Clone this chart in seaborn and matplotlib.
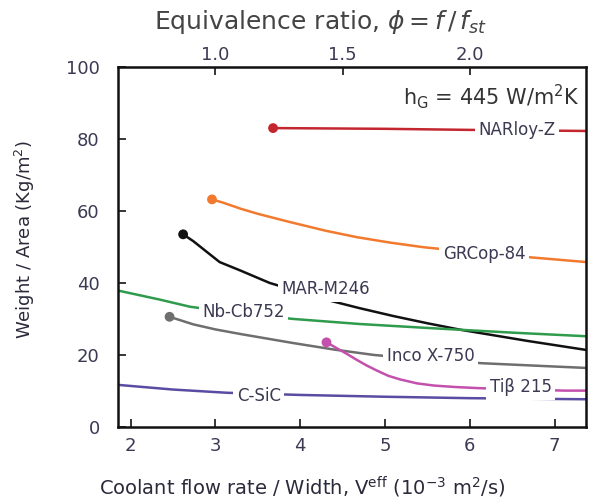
import numpy as np
import pandas as pd
import matplotlib
matplotlib.use("Agg")
import matplotlib.pyplot as plt
import seaborn as sns

# ---- data ----
alloys = ["NARloy-Z", "GRCop-84", "MAR-M246", "Nb-Cb752", "Inco X-750", "Tiβ 215", "C-SiC"]
narloy_v = [3.68, 5.0, 6.0, 7.37]
narloy_w = [83.0, 82.8, 82.5, 82.2]
grcop_v = [2.96, 3.09, 3.3, 3.5, 3.88, 4.3, 4.67, 5.06, 5.46, 6.1, 6.72, 7.37]
grcop_w = [63.2, 62.3, 60.6, 59.2, 56.9, 54.5, 52.7, 51.2, 49.9, 48.4, 47.1, 45.8]
mar_v = [2.62, 2.74, 3.05, 3.3, 3.64, 4.28, 4.7, 5.10, 5.5, 5.89, 6.68, 7.37]
mar_w = [53.5, 51.6, 45.8, 43.4, 40.0, 35.5, 33.0, 30.8, 28.8, 27.0, 23.9, 21.4]
nb_v = [1.85, 2.34, 2.70, 3.3, 3.92, 4.7, 5.50, 6.5, 7.37]
nb_w = [37.9, 35.4, 33.4, 31.5, 30.0, 28.6, 27.5, 26.2, 25.2]
inco_v = [2.46, 2.74, 3.0, 3.3, 3.92, 4.4, 4.87, 5.5, 6.15, 6.8, 7.37]
inco_w = [30.6, 28.5, 27.1, 25.8, 23.3, 21.5, 20.0, 18.7, 17.7, 17.0, 16.4]
ti_v = [4.31, 4.43, 4.55, 4.67, 4.79, 4.91, 5.04, 5.18, 5.38, 5.58, 5.83, 6.09, 6.6, 7.12, 7.37]
ti_w = [23.5, 21.9, 20.3, 18.6, 17.0, 15.6, 14.2, 13.2, 12.1, 11.5, 11.1, 10.8, 10.4, 10.1, 10.1]
csic_v = [1.85, 2.5, 3.14, 4.0, 5.0, 6.0, 7.37]
csic_w = [11.7, 10.4, 9.5, 8.9, 8.4, 8.0, 7.7]
has_dot = [True, True, True, False, True, True, False]
label_v = [6.56, 6.17, 4.30, 3.33, 5.54, 6.60, 3.51]
label_w = [82.5, 47.9, 38.2, 32.0, 19.8, 11.0, 8.6]
x_ticks = [2, 3, 4, 5, 6, 7]
y_ticks = [0, 20, 40, 60, 80, 100]
phi_ticks = [1.0, 1.5, 2.0]

colors = {"NARloy-Z": "#c3262f", "GRCop-84": "#f27a2e", "MAR-M246": "#111111",
          "Nb-Cb752": "#2f9b4c", "Inco X-750": "#6e6e6e", "Tiβ 215": "#c450ad",
          "C-SiC": "#5a4ca3"}

series_v = [narloy_v, grcop_v, mar_v, nb_v, inco_v, ti_v, csic_v]
series_w = [narloy_w, grcop_w, mar_w, nb_w, inco_w, ti_w, csic_w]
rows = []
for a, vs, ws in zip(alloys, series_v, series_w):
    for i, (v, w) in enumerate(zip(vs, ws)):
        rows.append({"alloy": a, "V": v, "W": w, "order": i})
df = pd.DataFrame(rows)
starts = df[df["order"] == 0]
starts = starts[[has_dot[alloys.index(a)] for a in starts["alloy"]]]

sns.set_style("ticks")
plt.rcParams["font.family"] = ["DejaVu Sans"]
plt.rcParams["mathtext.fontset"] = "dejavusans"

txt = "#3b3a52"
fig = plt.figure(figsize=(5.95, 4.99), dpi=100)
ax = fig.add_axes([0.198, 0.1443, 0.787, 0.7217])

sns.lineplot(data=df, x="V", y="W", hue="alloy", units="alloy", estimator=None,
             sort=False, palette=colors, linewidth=1.8, legend=False, ax=ax)
sns.scatterplot(data=starts, x="V", y="W", hue="alloy", palette=colors, s=50,
                edgecolor="none", legend=False, ax=ax, zorder=5)

for a, lv, lw in zip(alloys, label_v, label_w):
    ax.text(lv, lw, a, ha="center", va="center", fontsize=12, color=txt,
            bbox=dict(facecolor="white", edgecolor="none", pad=2.5), zorder=6)

ax.text(0.987, 0.917, r"h$_\mathrm{G}$ = 445 W/m$^2$K", transform=ax.transAxes,
        ha="right", va="center", fontsize=15, color="#333333")

ax.set_xlim(1.85, 7.37)
ax.set_ylim(0, 100)
ax.set_xticks(x_ticks)
ax.set_yticks(y_ticks)
ax.tick_params(direction="in", length=6, width=1.3, labelsize=13, labelcolor=txt)
ax.tick_params(axis="x", pad=7)
ax.tick_params(axis="y", pad=13)
for s in ax.spines.values():
    s.set_linewidth(1.8)
    s.set_color("#111111")
    s.set_visible(True)

ax.set_xlabel(r"Coolant flow rate / Width, V$^{\mathrm{eff}}$ (10$^{-3}$ m$^2$/s)",
              fontsize=14, color="#2a2a3a")
ax.xaxis.set_label_coords(0.393, -0.169)
ax.xaxis.label.set_va("center")
ax.set_ylabel(r"Weight / Area (Kg/m$^2$)", fontsize=13, color="#2a2a3a")
ax.yaxis.set_label_coords(-0.199, 0.519)
ax.yaxis.label.set_va("center")

sec = ax.secondary_xaxis("top", functions=(lambda v: v / 3.0, lambda p: p * 3.0))
sec.set_xticks(phi_ticks)
sec.set_xticklabels(["1.0", "1.5", "2.0"])
sec.tick_params(direction="in", length=6, width=1.3, labelsize=13, labelcolor=txt, pad=2)
fig.text((118 + 0.432 * 468) / 595, 1 - 22 / 499,
         r"Equivalence ratio, $\phi = f\,/\,f_{st}$", fontsize=18,
         color="#444444", ha="center", va="center")

fig.savefig("out.png", dpi=100)
